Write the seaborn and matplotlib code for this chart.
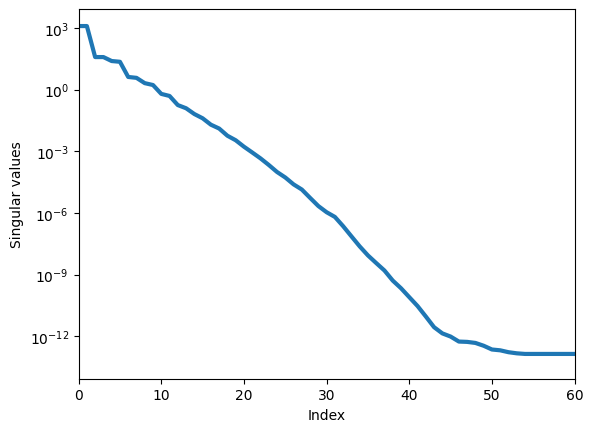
import matplotlib
matplotlib.use("Agg")
import matplotlib.pyplot as plt
import matplotlib.ticker as mticker
import seaborn as sns
import pandas as pd

index = list(range(61))
singular_values = [
    1.26e3, 1.26e3, 3.9e1, 3.9e1, 2.5e1, 2.3e1, 4.2, 3.8, 2.1, 1.7,
    6.3e-1, 5.0e-1, 1.8e-1, 1.26e-1, 6.6e-2, 4.1e-2, 2.0e-2, 1.3e-2, 5.8e-3, 3.5e-3,
    1.7e-3, 8.9e-4, 4.6e-4, 2.2e-4, 1.0e-4, 5.4e-5, 2.5e-5, 1.4e-5, 5.5e-6, 2.2e-6,
    1.1e-6, 6.5e-7, 2.3e-7, 7.4e-8, 2.4e-8, 8.7e-9, 3.7e-9, 1.6e-9, 5.2e-10, 2.2e-10,
    8.1e-11, 3.0e-11, 9.3e-12, 2.8e-12, 1.4e-12, 9.8e-13, 5.6e-13, 5.4e-13, 4.8e-13, 3.5e-13,
    2.3e-13, 2.1e-13, 1.7e-13, 1.5e-13, 1.4e-13, 1.4e-13, 1.4e-13, 1.4e-13, 1.4e-13, 1.4e-13,
    1.4e-13,
]
y_ticks = [1e3, 1e0, 1e-3, 1e-6, 1e-9, 1e-12]

df = pd.DataFrame({"Index": index, "Singular values": singular_values})

fig, ax = plt.subplots(figsize=(6.4, 4.8), dpi=100)
sns.lineplot(data=df, x="Index", y="Singular values", ax=ax, linewidth=3, color="#1f77b4")
ax.set_yscale("log")
ax.set_xlim(0, 60)
ax.set_ylim(10 ** -14.06, 10 ** 3.924)
ax.yaxis.set_major_locator(mticker.FixedLocator(y_ticks))
ax.yaxis.set_major_formatter(mticker.LogFormatterSciNotation())
ax.yaxis.set_minor_locator(mticker.NullLocator())
ax.set_xlabel("Index")
ax.set_ylabel("Singular values")
fig.savefig("out.png", dpi=100, bbox_inches="tight")
